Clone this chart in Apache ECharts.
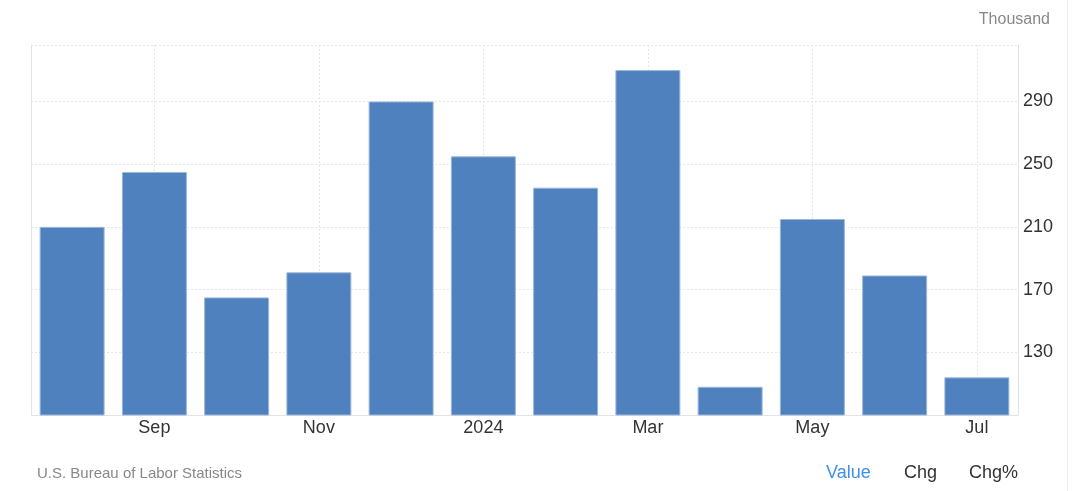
<!DOCTYPE html>
<html>
<head>
<meta charset="utf-8">
<script src="https://cdn.jsdelivr.net/npm/echarts@6/dist/echarts.min.js"></script>
<style>
html,body{margin:0;padding:0;background:#fff;}
#c{width:1090px;height:491px;}
</style>
</head>
<body>
<div id="c"></div>
<script>
const categories = ['Aug','Sep','Oct','Nov','Dec','2024','Feb','Mar','Apr','May','Jun','Jul'];
const labelNames = ['Aug','Sep','Oct','Nov','Dec','2024','Feb','Mar','Apr','May','Jun','Jul'];
const values = [210, 245, 165, 181, 290, 255, 235, 310, 108, 215, 179, 114];
const yMin = 90, yMax = 326, yStep = 40;

const chart = echarts.init(document.getElementById('c'));
const showOdd = (i) => i % 2 === 1;
chart.setOption({
  animation: false,
  grid: {left: 31, right: 72, top: 45, bottom: 76},
  xAxis: {
    type: 'category',
    data: categories,
    axisLine: {show: true, lineStyle: {color: '#e3e3e3', width: 1}},
    axisTick: {show: false},
    axisLabel: {
      interval: showOdd,
      color: '#333',
      fontSize: 18,
      fontFamily: 'Liberation Sans, Arial, sans-serif',
      margin: 4,
      formatter: (v, i) => labelNames[i]
    },
    splitLine: {
      show: true,
      interval: showOdd,
      alignWithLabel: true,
      lineStyle: {color: '#e6e6e6', type: [2, 2], width: 1}
    }
  },
  yAxis: [{
    type: 'value',
    position: 'right',
    min: yMin, max: yMax, interval: yStep,
    axisLine: {show: true, lineStyle: {color: '#e3e3e3', width: 1}},
    axisTick: {show: false},
    axisLabel: {
      color: '#333', fontSize: 18,
      fontFamily: 'Liberation Sans, Arial, sans-serif',
      margin: 5,
      padding: [0, 0, 6, 0],
      showMinLabel: false, showMaxLabel: false
    },
    splitLine: {show: true, lineStyle: {color: '#e6e6e6', type: [2, 2], width: 1}}
  }, {
    type: 'value',
    position: 'left',
    min: yMin, max: yMax,
    axisLine: {show: true, lineStyle: {color: '#e3e3e3', width: 1}},
    axisTick: {show: false},
    axisLabel: {show: false},
    splitLine: {show: false}
  }],
  series: [{
    type: 'bar',
    data: values,
    yAxisIndex: 0,
    barCategoryGap: '21%',
    itemStyle: {color: '#4e81bd', borderColor: '#9db7d9', borderWidth: 1}
  }],
  graphic: [
    {type: 'text', right: 40, top: 12, style: {text: 'Thousand', fill: '#888', font: '16px "Liberation Sans", Arial, sans-serif'}},
    {type: 'text', left: 37, top: 466, style: {text: 'U.S. Bureau of Labor Statistics', fill: '#888', font: '15px "Liberation Sans", Arial, sans-serif'}},
    {type: 'text', left: 826, top: 464, style: {text: 'Value', fill: '#3d8fee', font: '18px "Liberation Sans", Arial, sans-serif'}},
    {type: 'text', left: 904, top: 464, style: {text: 'Chg', fill: '#333', font: '18px "Liberation Sans", Arial, sans-serif'}},
    {type: 'text', left: 969, top: 464, style: {text: 'Chg%', fill: '#333', font: '18px "Liberation Sans", Arial, sans-serif'}},
    {type: 'line', shape: {x1: 1067.5, y1: 0, x2: 1067.5, y2: 491}, style: {stroke: '#eeeeee', lineWidth: 1}}
  ]
});
</script>
</body>
</html>
